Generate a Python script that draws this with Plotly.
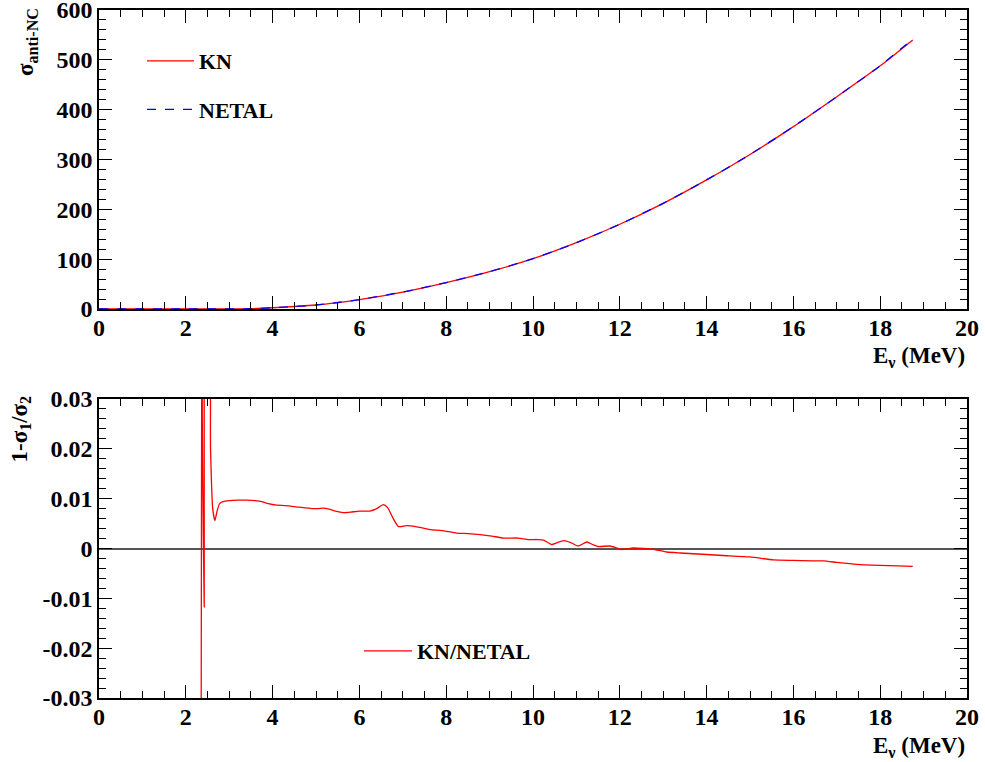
import plotly.graph_objects as go

# ---------------- data ----------------
E_top = [0, 1, 2, 3, 3.5, 4, 4.5, 5, 5.5, 6, 7, 8, 9, 10, 11, 12, 13, 14, 15, 16, 17, 18, 18.75]
sigma_KN = [0, 0, 0, 0, 0.5, 2.5, 5, 8, 13, 19, 34, 53, 75, 101, 133, 170, 212, 259, 310, 366, 426, 488, 540]
sigma_NETAL = [0, 0, 0, 0, 0.5, 2.5, 5, 8, 13, 19, 34, 53, 75, 101, 133, 170, 212, 259, 310, 366, 426, 488, 542]

E_ratio = [2.35, 2.37, 2.415, 2.425, 2.435, 2.52, 2.57, 2.62, 2.67, 2.72, 2.78, 2.86,
           3.0, 3.2, 3.4, 3.6, 3.75, 3.9, 4.09, 4.3, 4.6, 4.9, 5.05, 5.17, 5.3, 5.45,
           5.63, 5.8, 6.0, 6.24, 6.4, 6.55, 6.65, 6.78, 6.9, 7.09, 7.3, 7.63, 7.9,
           8.24, 8.5, 8.78, 9.05, 9.32, 9.66, 9.89, 10.1, 10.24, 10.43, 10.56, 10.70,
           10.87, 11.04, 11.24, 11.37, 11.5, 11.77, 11.9, 12.04, 12.31, 12.55, 12.81,
           13.08, 13.39, 13.8, 14.38, 15.0, 15.54, 16.0, 16.69, 17.0, 17.46, 18.0,
           18.4, 18.75]
ratio = [-0.06, 0.06, 0.05, -0.0118, 0.05, 0.05, 0.02, 0.008, 0.0056, 0.0075, 0.0090, 0.0094,
         0.0096, 0.0097, 0.0097, 0.0096, 0.0094, 0.0090, 0.0087, 0.0086, 0.0083, 0.0080, 0.0080,
         0.0081, 0.0079, 0.0075, 0.0072, 0.0073, 0.0075, 0.0075, 0.0080, 0.0088, 0.0082, 0.0060,
         0.0044, 0.0046, 0.0044, 0.0038, 0.0036, 0.0031, 0.0030, 0.0028, 0.0025, 0.0021, 0.0021,
         0.0018, 0.0018, 0.0017, 0.0008, 0.0012, 0.0016, 0.0012, 0.0005, 0.0013, 0.0008, 0.0004,
         0.0005, 0.0002, -0.0002, 0.0001, 0.0000, -0.0002, -0.0007, -0.0009, -0.0011, -0.0014,
         -0.0017, -0.0023, -0.0024, -0.0025, -0.0028, -0.0032, -0.0034, -0.0035, -0.0036]

x_ticks = [0, 2, 4, 6, 8, 10, 12, 14, 16, 18, 20]
x_ticklabels = ["0", "2", "4", "6", "8", "10", "12", "14", "16", "18", "20"]
y2_ticks = [-0.03, -0.02, -0.01, 0, 0.01, 0.02, 0.03]
y2_ticklabels = ["-0.03", "-0.02", "-0.01", "0", "0.01", "0.02", "0.03"]

# ---------------- figure ----------------
FONT = "Liberation Serif"
tickfont = dict(family=FONT, size=24, color="black", weight="bold")

fig = go.Figure()
fig.add_trace(go.Scatter(x=E_top, y=sigma_KN, mode="lines", name="KN",
                         line=dict(color="#ff0000", width=1.3, shape="spline", smoothing=0.6),
                         xaxis="x", yaxis="y", legend="legend", legendgroup="a"))
fig.add_trace(go.Scatter(x=E_top, y=sigma_NETAL, mode="lines", name="NETAL",
                         line=dict(color="#0000ff", width=1.3, dash="dash", shape="spline", smoothing=0.6),
                         xaxis="x", yaxis="y", legend="legend", legendgroup="b"))
fig.add_trace(go.Scatter(x=E_ratio, y=ratio, mode="lines", name="KN/NETAL",
                         line=dict(color="#ff0000", width=1.3, shape="spline", smoothing=0.5),
                         xaxis="x2", yaxis="y2", legend="legend2"))

def axis(**kw):
    d = dict(showline=True, linecolor="black", linewidth=1.5, mirror="ticks",
             ticks="inside", ticklen=13, tickwidth=1.2, tickcolor="black",
             showgrid=False, zeroline=False, tickfont=tickfont, automargin=False,
             ticklabeloverflow="allow")
    d.update(kw)
    return d

H_TOP = (698 - 309) / 688
H_BOT = (698 - 399) / 688

xminor = dict(ticks="inside", ticklen=7, tickcolor="black", dtick=0.5, tick0=0)

fig.update_layout(
    width=985, height=762,
    margin=dict(l=99, r=18, t=10, b=64, autoexpand=False),
    plot_bgcolor="white", paper_bgcolor="white",
    xaxis=axis(domain=[0, 1], anchor="y", range=[0, 20], tickvals=x_ticks, ticktext=x_ticklabels,
               ticklabelstandoff=-4, minor=xminor),
    yaxis=axis(domain=[H_TOP, 1], anchor="x", range=[0, 600], dtick=100,
               minor=dict(ticks="inside", ticklen=7, tickcolor="black", dtick=20, tick0=0)),
    xaxis2=axis(domain=[0, 1], anchor="y2", range=[0, 20], tickvals=x_ticks, ticktext=x_ticklabels,
                ticklabelstandoff=-4, minor=xminor),
    yaxis2=axis(domain=[0, H_BOT], anchor="x2", range=[-0.03, 0.03],
                tickvals=y2_ticks, ticktext=y2_ticklabels,
                zeroline=True, zerolinecolor="#555555", zerolinewidth=1.5,
                minor=dict(ticks="inside", ticklen=7, tickcolor="black", dtick=0.002, tick0=0)),
    legend=dict(x=(142 - 99) / 868, y=(698 - 40) / 688, xanchor="left", yanchor="top",
                font=dict(family=FONT, size=22, color="black", weight="bold"),
                bgcolor="rgba(0,0,0,0)", tracegroupgap=17, itemwidth=47),
    legend2=dict(x=(359 - 99) / 868, y=(698 - 630) / 688, xanchor="left", yanchor="top",
                 font=dict(family=FONT, size=22, color="black", weight="bold"),
                 bgcolor="rgba(0,0,0,0)", itemwidth=48),
    showlegend=True,
)

afont = dict(family=FONT, size=23, color="black", weight="bold")
fig.add_annotation(text="σ<sub>anti-NC</sub>", textangle=-90, xref="paper", yref="paper",
                   x=(27 - 99) / 868, y=(698 - 6) / 688, xanchor="center", yanchor="top",
                   showarrow=False, font=afont)
fig.add_annotation(text="1-σ<sub>1</sub>/σ<sub>2</sub>", textangle=-90, xref="paper", yref="paper",
                   x=(20 - 99) / 868, y=(698 - 394) / 688, xanchor="center", yanchor="top",
                   showarrow=False, font=afont)
fig.add_annotation(text="E<sub>ν</sub> (MeV)", xref="paper", yref="paper",
                   x=1, y=(698 - 341) / 688, xanchor="right", yanchor="top",
                   showarrow=False, font=afont)
fig.add_annotation(text="E<sub>ν</sub> (MeV)", xref="paper", yref="paper",
                   x=1, y=(698 - 731) / 688, xanchor="right", yanchor="top",
                   showarrow=False, font=afont)

fig.write_html("out.html")
